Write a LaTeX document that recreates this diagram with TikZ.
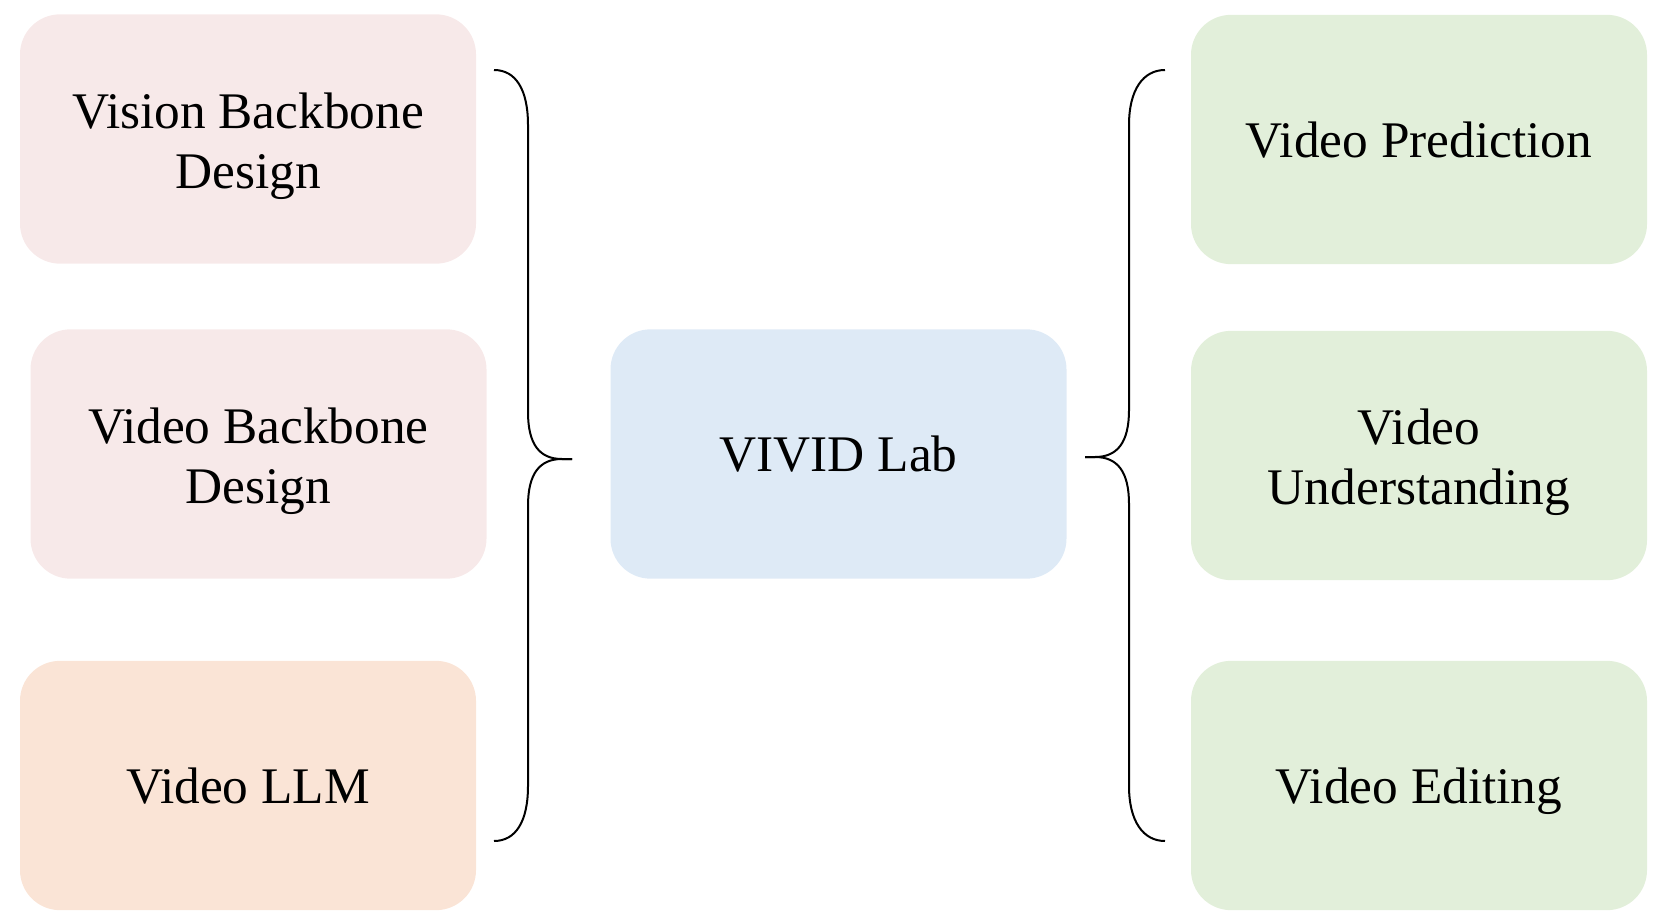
\documentclass[tikz,border=0pt]{standalone}
\usepackage{fontspec}
\setmainfont{Liberation Serif}
\definecolor{pinkbox}{HTML}{F7E9E9}
\definecolor{orangebox}{HTML}{FAE4D6}
\definecolor{bluebox}{HTML}{DEEAF6}
\definecolor{greenbox}{HTML}{E2EFDA}
\newcommand{\toppad}{\rule{0pt}{37pt}}
\tikzset{
  topic/.style={rectangle, rounded corners=30pt, draw=none, inner sep=0pt,
    minimum width=342pt, minimum height=187pt, align=center,
    font=\fontsize{38.5}{45}\selectfont},
  oneline/.style={text depth=0pt},
  bracel/.style={line width=1.5pt, draw=black}
}
\begin{document}
\begin{tikzpicture}[x=0.75pt, y=-0.75pt]
\useasboundingbox (0,0) rectangle (1664,924);
\node[topic, fill=pinkbox]   (vb)    at (248,139)    {\toppad Vision Backbone\\Design};
\node[topic, fill=pinkbox]   (vidb)  at (258.5,454)  {\toppad Video Backbone\\Design};
\node[topic, oneline, fill=orangebox] (llm)   at (248,785.5)  {Video LLM};
\node[topic, oneline, fill=bluebox]   (vivid) at (838.5,454)  {VIVID Lab};
\node[topic, oneline, fill=greenbox]  (vp)    at (1419,139.5) {Video Prediction};
\node[topic, fill=greenbox]  (vu)    at (1419,455.5) {\toppad Video\\Understanding};
\node[topic, oneline, fill=greenbox]  (ve)    at (1419,785.5) {Video Editing};
% left brace
\coordinate (lt) at (494,70);
\coordinate (lp) at (572,459);
\coordinate (lb) at (494,841);
\draw[bracel] (lt) .. controls (516,70) and (528,90) .. (528,125) -- (528,412)
  .. controls (528,445) and (540,459) .. (562,459) -- (lp);
\draw[bracel] (lp) -- (562,459) .. controls (540,459) and (528,473) .. (528,506)
  -- (528,786) .. controls (528,821) and (516,841) .. (lb);
% right brace
\coordinate (rt) at (1165,70);
\coordinate (rp) at (1085,457);
\coordinate (rb) at (1165,841);
\draw[bracel] (rt) .. controls (1143,70) and (1129,90) .. (1129,125) -- (1129,410)
  .. controls (1129,443) and (1117,457) .. (1095,457) -- (rp);
\draw[bracel] (rp) -- (1095,457) .. controls (1117,457) and (1129,471) .. (1129,504)
  -- (1129,786) .. controls (1129,821) and (1143,841) .. (rb);
\end{tikzpicture}
\end{document}
